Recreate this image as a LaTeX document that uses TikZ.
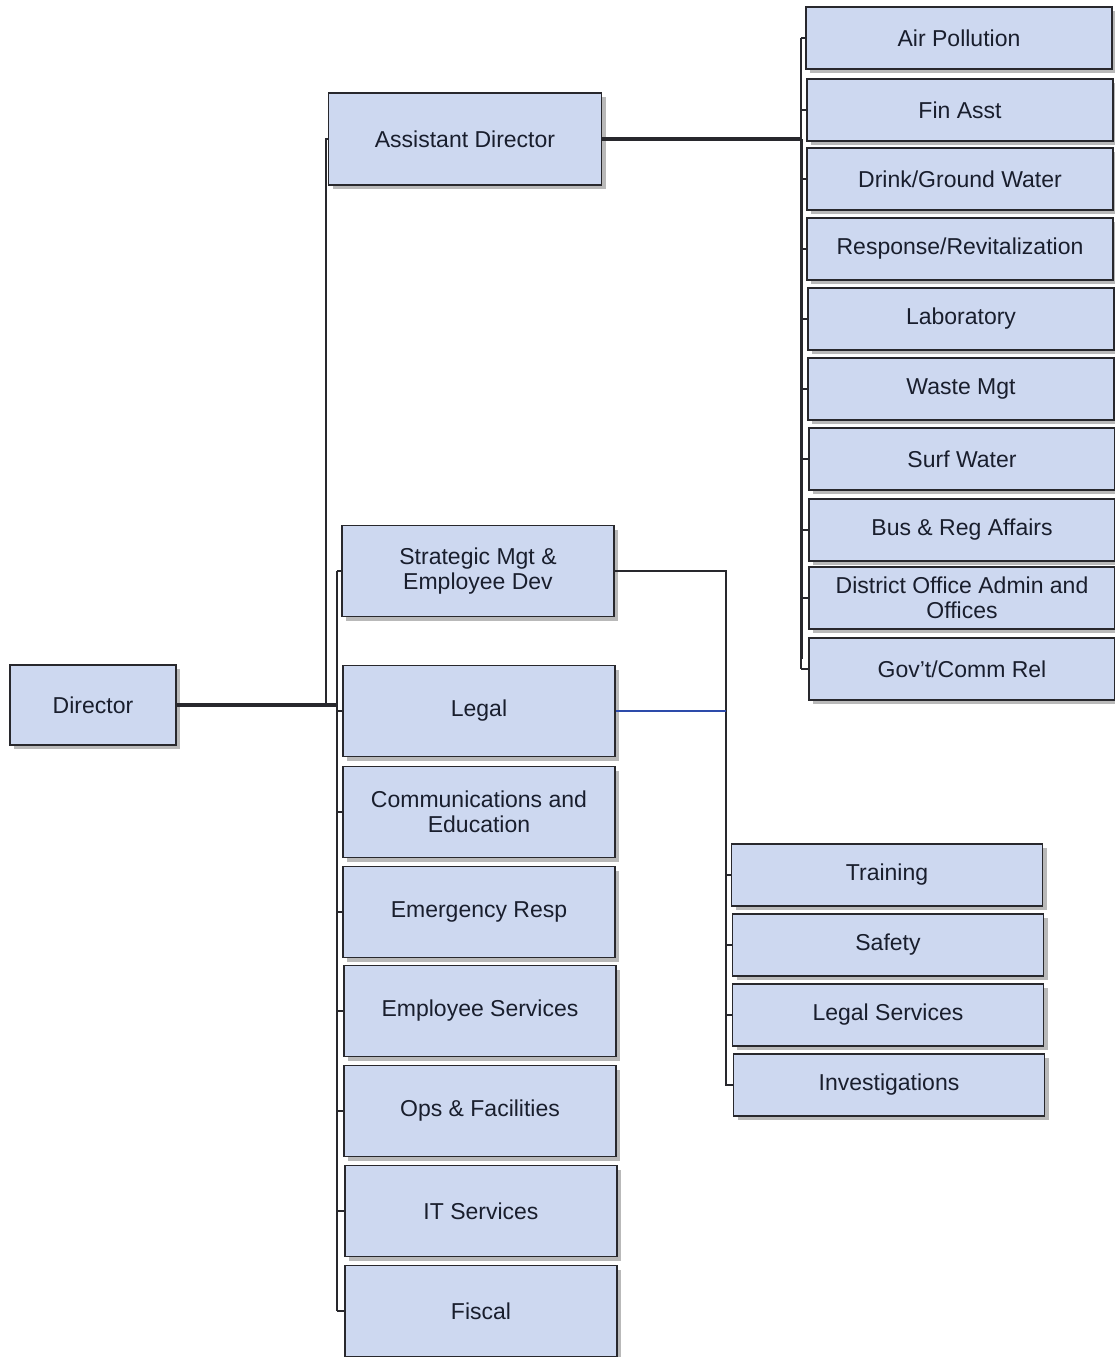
\documentclass[tikz,border=0pt]{standalone}
\usepackage{fontspec}
\setmainfont{Liberation Sans}
\usetikzlibrary{shadows}
\definecolor{boxfill}{RGB}{205,216,240}
\definecolor{edgeclr}{RGB}{40,40,45}
\definecolor{txtclr}{RGB}{25,30,45}
\definecolor{legalblue}{RGB}{45,75,170}

\tikzset{
	orgbox/.style={draw=edgeclr, line width=1.6pt, fill=boxfill, minimum width=272pt, minimum height=91pt,
		align=center, text=txtclr, font=\fontsize{23}{25}\selectfont,
		drop shadow={shadow xshift=4pt, shadow yshift=-4pt, fill=black!50, opacity=.55}},
	unitbox/.style={orgbox, minimum width=306pt, minimum height=62pt},
	sectbox/.style={orgbox, minimum width=311pt, minimum height=62pt},
	mainline/.style={draw=edgeclr, line width=4pt},
	subline/.style={draw=edgeclr, line width=1.4pt},
	legalline/.style={draw=legalblue, line width=1.2pt}
}

\begin{document}
\begin{tikzpicture}[x=1pt,y=1pt,yscale=-1,xscale=1]
	\useasboundingbox (0,0) rectangle (1114,1357);
	
	\node[orgbox, minimum width=166pt, minimum height=80pt] (director) at (93,705) {Director};
	\node[orgbox, minimum width=273pt, minimum height=92pt] (asstdir) at (465,139) {Assistant Director};
	
	\node[orgbox] (stratmgt) at (478,571) {Strategic Mgt \&\\Employee Dev};
	\node[orgbox] (legal) at (479,711) {Legal};
	\node[orgbox] (commedu) at (479,812) {Communications and\\Education};
	\node[orgbox] (emerg) at (479,912) {Emergency Resp};
	\node[orgbox] (empserv) at (480,1011) {Employee Services};
	\node[orgbox] (opsfac) at (480,1111) {Ops \& Facilities};
	\node[orgbox] (itserv) at (481,1211) {IT Services};
	\node[orgbox] (fiscal) at (481,1311) {Fiscal};
	
	\node[unitbox] (airpol) at (959,38) {Air Pollution};
	\node[unitbox] (finasst) at (960,110) {Fin Asst};
	\node[unitbox] (drinkwater) at (960,179) {Drink/Ground Water};
	\node[unitbox] (response) at (960,249) {Response/Revitalization};
	\node[unitbox] (lab) at (961,319) {Laboratory};
	\node[unitbox] (wastemgt) at (961,389) {Waste Mgt};
	\node[unitbox] (surfwater) at (962,459) {Surf Water};
	\node[unitbox] (busreg) at (962,530) {Bus \& Reg Affairs};
	\node[unitbox] (district) at (962,598) {District Office Admin and\\Offices};
	\node[unitbox] (govcomm) at (962,669) {Gov't/Comm Rel};
	
	\node[sectbox] (training) at (887,875) {Training};
	\node[sectbox] (safety) at (888,945) {Safety};
	\node[sectbox] (legalsvc) at (888,1015) {Legal Services};
	\node[sectbox] (invest) at (889,1085) {Investigations};
	
	\coordinate (abus) at (326,0);
	\coordinate (lbus) at (337,0);
	\coordinate (rbus) at (801,0);
	\coordinate (sbus) at (726,0);
	
	% director and assistant director
	\draw[mainline] (director.east) -- (director.east -| lbus);
	\draw[subline] (director.east -| abus) -- (asstdir.west -| abus) -- (asstdir.west);
	\draw[mainline] (asstdir.east) -- (asstdir.east -| rbus);
	
	% units on the right
	\draw[subline] (airpol.west -| rbus) -- (govcomm.west -| rbus);
	\draw[line width=3pt, draw=edgeclr] (asstdir.east -| rbus) -- ([yshift=-10pt]govcomm.west -| rbus);
	\foreach \n in {airpol,finasst,drinkwater,response,lab,wastemgt,surfwater,busreg,district,govcomm}
		\draw[subline] (\n.west -| rbus) -- (\n.west);
	
	% divisions under the director
	\draw[subline, line width=2.2pt] (stratmgt.west -| lbus) -- (fiscal.west -| lbus);
	\foreach \n in {stratmgt,legal,commedu,emerg,empserv,opsfac,itserv,fiscal}
		\draw[subline] (\n.west -| lbus) -- (\n.west);
	
	% sections under strategic mgt
	\draw[subline] (stratmgt.east) -- (stratmgt.east -| sbus) -- (invest.west -| sbus) -- (invest.west);
	\foreach \n in {training,safety,legalsvc}
		\draw[subline] (\n.west -| sbus) -- (\n.west);
	\draw[legalline] (legal.east) -- (legal.east -| sbus);
\end{tikzpicture}
\end{document}
